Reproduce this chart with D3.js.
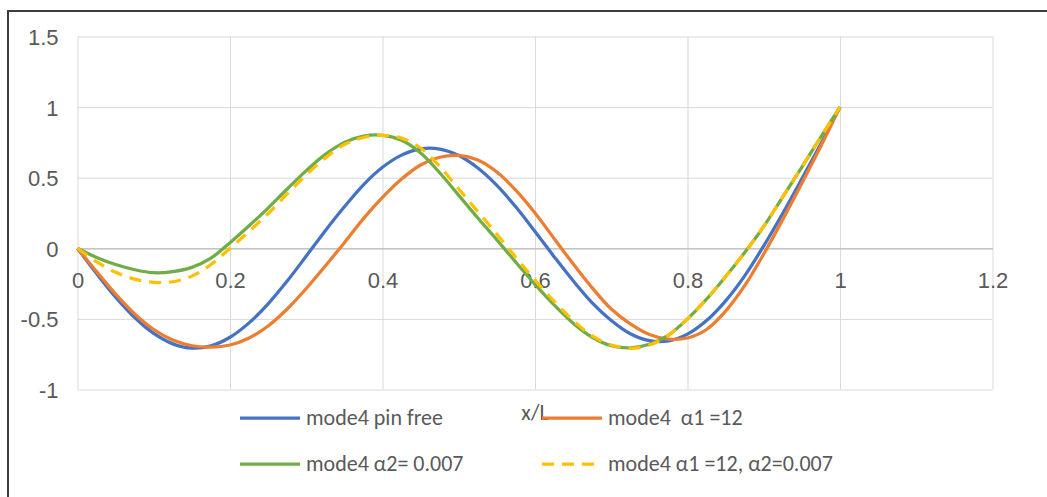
<!DOCTYPE html>
<html>
<head>
<meta charset="utf-8">
<script src="https://cdn.jsdelivr.net/npm/d3@7"></script>
<style>
  html, body { margin: 0; padding: 0; background: #fff; }
  svg { display: block; font-family: "Carlito", "Liberation Sans", Arial, sans-serif; }
  .tick text { fill: #595959; font-size: 22px; }
  .legend text { fill: #595959; font-size: 22px; white-space: pre; }
</style>
</head>
<body>
<svg id="chart" width="1047" height="497"></svg>
<script>
// Normalised position along the beam
const xPos = [0, 0.025, 0.05, 0.075, 0.1, 0.125, 0.15, 0.175, 0.2, 0.225,
  0.25, 0.275, 0.3, 0.325, 0.35, 0.375, 0.4, 0.425, 0.45, 0.475,
  0.5, 0.525, 0.55, 0.575, 0.6, 0.625, 0.65, 0.675, 0.7, 0.725,
  0.75, 0.775, 0.8, 0.825, 0.85, 0.875, 0.9, 0.925, 0.95, 0.975, 1];

// Mode 4 shapes
const pinFree = [0, -0.179, -0.346, -0.490, -0.603, -0.677, -0.707, -0.691, -0.630, -0.528,
  -0.393, -0.232, -0.055, 0.125, 0.294, 0.450, 0.574, 0.660, 0.704, 0.703,
  0.657, 0.569, 0.446, 0.292, 0.119, -0.059, -0.230, -0.386, -0.511, -0.605,
  -0.654, -0.656, -0.608, -0.512, -0.372, -0.195, 0.017, 0.248, 0.492, 0.741, 1.0];

const alpha1 = [0, -0.165, -0.325, -0.465, -0.575, -0.650, -0.690, -0.700, -0.685, -0.635,
  -0.550, -0.430, -0.285, -0.125, 0.040, 0.210, 0.360, 0.490, 0.590, 0.645,
  0.658, 0.625, 0.540, 0.410, 0.250, 0.070, -0.110, -0.280, -0.430, -0.535,
  -0.610, -0.643, -0.635, -0.575, -0.445, -0.265, -0.040, 0.205, 0.460, 0.725, 1.0];

const alpha2 = [0, -0.065, -0.115, -0.152, -0.173, -0.165, -0.135, -0.070, 0.040, 0.160,
  0.285, 0.420, 0.550, 0.665, 0.750, 0.795, 0.800, 0.765, 0.675, 0.535,
  0.375, 0.215, 0.060, -0.100, -0.255, -0.400, -0.530, -0.630, -0.690, -0.705,
  -0.680, -0.615, -0.500, -0.360, -0.200, -0.030, 0.155, 0.365, 0.575, 0.790, 1.0];

const alpha1alpha2 = [0, -0.095, -0.170, -0.218, -0.241, -0.237, -0.197, -0.115, 0.000, 0.120,
  0.245, 0.385, 0.520, 0.640, 0.735, 0.785, 0.800, 0.780, 0.710, 0.580,
  0.420, 0.260, 0.100, -0.065, -0.225, -0.375, -0.510, -0.620, -0.685, -0.708,
  -0.685, -0.615, -0.500, -0.360, -0.200, -0.030, 0.155, 0.365, 0.575, 0.790, 1.0];

const seriesNames = ["mode4 pin free", "mode4  \u03b11 =12", "mode4 \u03b12= 0.007", "mode4 \u03b11 =12, \u03b12=0.007"];
const seriesColors = ["#4472C4", "#ED7D31", "#70AD47", "#FFC000"];

const xTicks = [0, 0.2, 0.4, 0.6, 0.8, 1, 1.2];
const xTickLabels = ["0", "0.2", "0.4", "0.6", "0.8", "1", "1.2"];
const yTicks = [-1, -0.5, 0, 0.5, 1, 1.5];
const yTickLabels = ["-1", "-0.5", "0", "0.5", "1", "1.5"];
const xTitle = "x/L";

const svg = d3.select("#chart");
const plot = { left: 77.5, right: 992.5, top: 36.5, bottom: 389.5 };

const x = d3.scaleLinear().domain([0, 1.2]).range([plot.left, plot.right]);
const y = d3.scaleLinear().domain([-1, 1.5]).range([plot.bottom, plot.top]);

// chart frame
svg.append("rect")
  .attr("x", 8).attr("y", 11)
  .attr("width", 1100).attr("height", 600)
  .attr("fill", "none").attr("stroke", "#3c3c3c").attr("stroke-width", 2);

// horizontal gridlines + value labels
const yAxis = svg.append("g")
  .attr("transform", `translate(${plot.left},0)`)
  .call(d3.axisLeft(y).tickValues(yTicks)
    .tickFormat((d, i) => yTickLabels[i])
    .tickSize(-(plot.right - plot.left)).tickPadding(19));
yAxis.select(".domain").remove();
yAxis.selectAll(".tick line").attr("stroke", "#d9d9d9").attr("stroke-width", 1);
yAxis.selectAll(".tick text").attr("dy", "0.36em");

// vertical gridlines
const xGrid = svg.append("g")
  .attr("transform", `translate(0,${plot.bottom})`)
  .call(d3.axisBottom(x).tickValues(xTicks).tickFormat("")
    .tickSize(-(plot.bottom - plot.top)));
xGrid.select(".domain").remove();
xGrid.selectAll(".tick line").attr("stroke", "#d9d9d9").attr("stroke-width", 1);

// horizontal axis through zero, labels just below it
const xAxis = svg.append("g")
  .attr("transform", `translate(0,${y(0)})`)
  .call(d3.axisBottom(x).tickValues(xTicks)
    .tickFormat((d, i) => xTickLabels[i])
    .tickSize(0).tickPadding(24));
xAxis.select(".domain").attr("stroke", "#c4c4c4").attr("stroke-width", 1.5);

// axis title
svg.append("text")
  .attr("x", (plot.left + plot.right) / 2)
  .attr("y", 420)
  .attr("text-anchor", "middle")
  .attr("fill", "#595959")
  .style("font-size", "22px")
  .text(xTitle);

// series
const series = [pinFree, alpha1, alpha2, alpha1alpha2];
const line = d3.line()
  .x((d, i) => x(xPos[i]))
  .y(d => y(d))
  .curve(d3.curveCatmullRom.alpha(0.5));

series.forEach((vals, k) => {
  svg.append("path")
    .datum(vals)
    .attr("d", line)
    .attr("fill", "none")
    .attr("stroke", seriesColors[k])
    .attr("stroke-width", 3.25)
    .attr("stroke-linejoin", "round")
    .attr("stroke-dasharray", k === 3 ? "12,8" : null);
});

// legend
const legendPos = [[240, 418], [542, 418], [240, 464], [542, 464]];
const legend = svg.append("g").attr("class", "legend");
seriesNames.forEach((name, k) => {
  const [lx, ly] = legendPos[k];
  legend.append("line")
    .attr("x1", lx).attr("x2", lx + 60)
    .attr("y1", ly).attr("y2", ly)
    .attr("stroke", seriesColors[k])
    .attr("stroke-width", 3.25)
    .attr("stroke-dasharray", k === 3 ? "12,8" : null);
  legend.append("text")
    .attr("x", lx + 66).attr("y", ly + 7)
    .text(name);
});
</script>
</body>
</html>
